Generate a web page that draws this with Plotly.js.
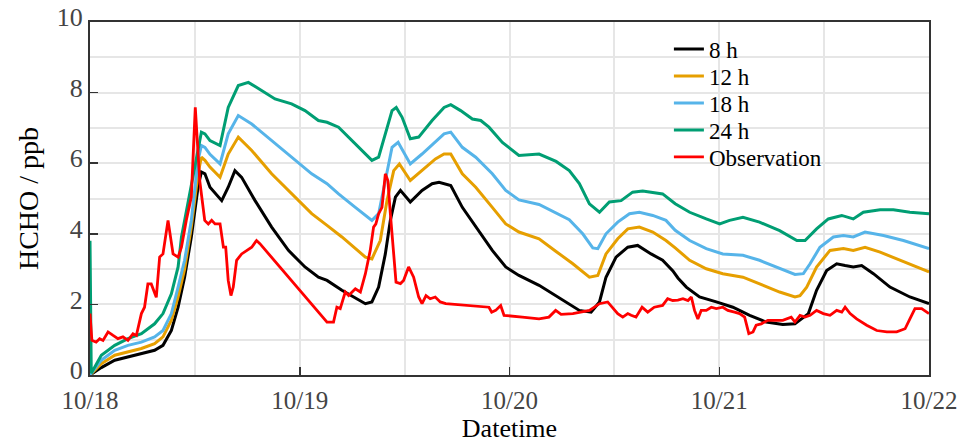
<!DOCTYPE html>
<html>
<head>
<meta charset="utf-8">
<script src="https://cdn.plot.ly/plotly-3.0.1.min.js"></script>
<style>html,body{margin:0;padding:0;background:#fff;}#chart{width:967px;height:443px;}</style>
</head>
<body>
<div id="chart"></div>
<script>
// Day offsets from 10/18 00:00 and HCHO values (ppb)
const tickLabels = ['10/18','10/19','10/20','10/21','10/22'];
const seriesNames = ['8 h','12 h','18 h','24 h','Observation'];

const days8 = [0,0.054,0.118,0.181,0.245,0.308,0.348,0.388,0.42,0.451,0.483,0.515,0.531,0.548,0.572,0.628,0.659,0.691,0.723,0.787,0.866,0.946,1.025,1.089,1.13,1.201,1.313,1.344,1.376,1.408,1.432,1.456,1.48,1.527,1.583,1.631,1.664,1.72,1.775,1.839,1.918,1.982,2.045,2.141,2.222,2.285,2.333,2.389,2.429,2.46,2.508,2.564,2.611,2.675,2.73,2.779,2.803,2.843,2.906,2.986,3.065,3.145,3.224,3.303,3.361,3.425,3.464,3.512,3.56,3.6,3.639,3.679,3.735,3.814,3.909,4.0];
const hcho8 = [0,0.21,0.42,0.51,0.6,0.7,0.84,1.26,1.92,2.77,3.91,5.32,5.75,5.7,5.32,4.94,5.32,5.79,5.6,4.94,4.19,3.53,3.06,2.77,2.68,2.4,2.02,2.07,2.49,3.43,4.38,5.04,5.23,4.9,5.23,5.42,5.46,5.37,4.75,4.19,3.53,3.06,2.82,2.54,2.25,2.02,1.83,1.78,2.07,2.77,3.34,3.62,3.67,3.43,3.25,2.95,2.75,2.49,2.21,2.07,1.92,1.69,1.5,1.43,1.45,1.74,2.4,2.96,3.15,3.1,3.06,3.1,2.87,2.49,2.21,2.02];

const days12 = [0,0.054,0.118,0.181,0.245,0.308,0.348,0.388,0.42,0.451,0.483,0.515,0.531,0.548,0.572,0.62,0.659,0.707,0.771,0.866,0.961,1.057,1.13,1.201,1.313,1.344,1.384,1.416,1.448,1.475,1.527,1.583,1.647,1.688,1.72,1.775,1.839,1.918,1.982,2.045,2.141,2.222,2.302,2.381,2.421,2.46,2.516,2.564,2.619,2.683,2.746,2.79,2.859,2.938,3.017,3.113,3.192,3.288,3.361,3.385,3.417,3.464,3.528,3.592,3.639,3.695,3.767,3.862,4.0];
const hcho12 = [0,0.32,0.56,0.65,0.75,0.89,1.08,1.55,2.21,3.0,4.19,5.7,6.17,6.08,5.89,5.6,6.26,6.74,6.36,5.7,5.13,4.57,4.24,3.91,3.34,3.29,3.81,4.94,5.79,5.98,5.51,5.79,6.12,6.26,6.26,5.7,5.32,4.75,4.28,4.05,3.86,3.5,3.15,2.77,2.82,3.43,3.86,4.14,4.19,4.05,3.81,3.6,3.25,3.01,2.87,2.77,2.58,2.35,2.21,2.25,2.49,3.06,3.53,3.58,3.53,3.62,3.48,3.25,2.92];

const days18 = [0,0.054,0.118,0.181,0.245,0.308,0.348,0.388,0.42,0.451,0.483,0.515,0.531,0.548,0.572,0.62,0.659,0.707,0.771,0.866,0.961,1.057,1.13,1.185,1.265,1.344,1.376,1.408,1.44,1.469,1.527,1.583,1.688,1.72,1.775,1.839,1.918,1.982,2.045,2.141,2.222,2.285,2.349,2.397,2.421,2.46,2.516,2.572,2.619,2.683,2.746,2.79,2.859,2.938,3.017,3.113,3.192,3.288,3.361,3.401,3.433,3.48,3.544,3.592,3.639,3.695,3.783,3.878,4.0];
const hcho18 = [0,0.42,0.7,0.84,0.93,1.08,1.26,1.74,2.49,3.25,4.38,6.08,6.5,6.45,6.25,5.98,6.83,7.35,7.11,6.64,6.17,5.7,5.42,5.13,4.75,4.38,4.57,5.51,6.45,6.59,5.98,6.26,6.83,6.88,6.45,6.17,5.7,5.23,4.96,4.83,4.6,4.4,4.0,3.6,3.58,4.0,4.33,4.57,4.61,4.52,4.38,4.1,3.81,3.58,3.43,3.39,3.25,3.01,2.85,2.87,3.15,3.62,3.91,3.95,3.91,4.05,3.95,3.81,3.58];

const days24 = [0,0.006,0.054,0.118,0.181,0.245,0.308,0.348,0.388,0.42,0.436,0.467,0.499,0.531,0.548,0.572,0.62,0.659,0.707,0.755,0.818,0.882,0.961,1.025,1.089,1.13,1.185,1.265,1.344,1.376,1.416,1.44,1.46,1.488,1.527,1.567,1.631,1.688,1.72,1.767,1.823,1.863,1.902,1.966,2.045,2.141,2.222,2.285,2.333,2.381,2.429,2.476,2.532,2.587,2.635,2.683,2.73,2.79,2.859,2.938,3.002,3.049,3.113,3.192,3.288,3.37,3.409,3.464,3.52,3.584,3.639,3.687,3.767,3.83,3.909,4.0];
const hcho24 = [3.8,0.05,0.56,0.84,1.03,1.17,1.45,1.74,2.3,3.06,3.9,4.85,5.89,6.88,6.83,6.64,6.5,7.58,8.2,8.29,8.06,7.82,7.68,7.49,7.21,7.16,7.02,6.55,6.08,6.17,7.02,7.49,7.58,7.3,6.69,6.74,7.21,7.58,7.66,7.49,7.25,7.21,7.02,6.59,6.22,6.26,6.05,5.79,5.42,4.85,4.61,4.9,4.94,5.18,5.21,5.18,5.13,4.85,4.61,4.42,4.28,4.38,4.47,4.33,4.09,3.81,3.81,4.14,4.42,4.52,4.42,4.61,4.68,4.68,4.61,4.57];

const daysObs = [0,0.009,0.029,0.046,0.062,0.086,0.11,0.133,0.157,0.181,0.205,0.221,0.245,0.26,0.276,0.292,0.316,0.332,0.348,0.372,0.396,0.42,0.436,0.459,0.483,0.502,0.523,0.547,0.564,0.58,0.596,0.62,0.636,0.647,0.659,0.672,0.683,0.699,0.723,0.747,0.771,0.794,0.81,1.13,1.138,1.161,1.177,1.193,1.217,1.233,1.265,1.289,1.313,1.336,1.352,1.363,1.376,1.392,1.408,1.42,1.432,1.448,1.459,1.48,1.495,1.519,1.543,1.567,1.583,1.602,1.622,1.646,1.67,1.696,1.791,1.902,1.915,1.934,1.958,1.974,2.061,2.141,2.188,2.22,2.246,2.302,2.381,2.429,2.468,2.492,2.516,2.54,2.564,2.58,2.603,2.632,2.659,2.69,2.73,2.754,2.778,2.803,2.827,2.851,2.867,2.882,2.898,2.914,2.938,2.962,2.986,3.017,3.041,3.073,3.097,3.121,3.141,3.161,3.176,3.2,3.232,3.256,3.303,3.343,3.361,3.385,3.409,3.433,3.464,3.496,3.528,3.56,3.584,3.6,3.624,3.655,3.703,3.751,3.799,3.846,3.886,3.909,3.933,3.965,4.0];
const hchoObs = [1.74,0.98,0.93,1.03,0.98,1.22,1.12,1.03,1.08,0.98,1.17,1.12,1.74,1.92,2.58,2.58,2.2,3.34,3.43,4.38,3.43,3.34,3.62,4.38,5.04,7.58,5.51,4.38,4.28,4.38,4.28,4.28,3.62,3.62,2.68,2.25,2.49,3.25,3.43,3.53,3.62,3.81,3.72,1.5,1.5,1.5,1.92,1.88,2.35,2.25,2.44,2.35,2.87,3.53,4.19,4.28,4.57,4.75,5.7,5.51,4.57,3.43,2.63,2.59,2.68,3.06,2.77,2.21,2.02,2.25,2.16,2.21,2.07,2.02,1.97,1.92,1.78,1.83,1.97,1.69,1.64,1.59,1.64,1.83,1.72,1.74,1.83,2.02,2.07,1.92,1.74,1.64,1.74,1.69,1.64,1.92,1.78,1.92,1.97,2.16,2.11,2.12,2.16,2.11,2.21,1.83,1.59,1.83,1.83,1.92,1.88,1.92,1.83,1.78,1.74,1.64,1.17,1.22,1.41,1.45,1.55,1.55,1.55,1.64,1.5,1.69,1.64,1.69,1.83,1.74,1.69,1.83,1.78,1.92,1.74,1.59,1.41,1.26,1.22,1.22,1.31,1.59,1.88,1.88,1.74];

const baseMs = Date.UTC(2020, 9, 18);
function toDate(d) {
  return new Date(Math.round(baseMs + d * 86400000)).toISOString().slice(0, 19).replace('T', ' ');
}

const colors = ['#000000', '#E69F00', '#56B4E9', '#009E73', '#FF0000'];
const xs = [days8, days12, days18, days24, daysObs];
const ys = [hcho8, hcho12, hcho18, hcho24, hchoObs];
const legendIds = ['legend', 'legend2', 'legend3', 'legend4', 'legend5'];

const traces = xs.map((dx, i) => ({
  type: 'scatter',
  mode: 'lines',
  name: seriesNames[i],
  legend: legendIds[i],
  x: dx.map(toDate),
  y: ys[i],
  line: {color: colors[i], width: i === 4 ? 2.8 : 3}
}));

const serif = 'Liberation Serif, Times New Roman, serif';
const grid = '#e6e6e6';

const layout = {
  width: 967, height: 443,
  margin: {l: 90, r: 38, t: 22, b: 68},
  paper_bgcolor: '#ffffff', plot_bgcolor: '#ffffff',
  font: {family: serif, color: '#000'},
  showlegend: true,
  xaxis: {
    type: 'date',
    range: [toDate(0), toDate(4)],
    tickmode: 'array',
    tickvals: [0,1,2,3,4].map(toDate),
    ticktext: tickLabels,
    ticks: 'inside', ticklen: 8, tickwidth: 1.5, tickcolor: '#333',
    showgrid: true, gridcolor: grid, gridwidth: 2,
    minor: {tickmode: 'array', tickvals: [0.5,1.5,2.5,3.5].map(toDate), showgrid: true, gridcolor: grid, gridwidth: 2, ticks: ''},
    showline: true, mirror: true, linecolor: '#333', linewidth: 2,
    zeroline: false,
    ticklabelstandoff: 2,
    tickfont: {family: serif, size: 25, color: '#444'},
    title: {text: 'Datetime', font: {family: serif, size: 26, color: '#000'}, standoff: 5}
  },
  yaxis: {
    range: [0, 10],
    tickmode: 'linear', tick0: 0, dtick: 2,
    ticks: 'inside', ticklen: 8, tickwidth: 1.5, tickcolor: '#333',
    showgrid: true, gridcolor: grid, gridwidth: 2,
    minor: {dtick: 1, showgrid: true, gridcolor: grid, gridwidth: 2, ticks: ''},
    showline: true, mirror: true, linecolor: '#333', linewidth: 2,
    zeroline: false,
    ticklabelshift: -5,
    tickfont: {family: serif, size: 26, color: '#444'},
    title: {text: 'HCHO / ppb', font: {family: serif, size: 28, color: '#000'}, standoff: 10}
  }
};

// one legend box per row so the rows can sit as tightly as in the reference
legendIds.forEach((id, i) => {
  const yc = 49 + 27 * i;
  layout[id] = {
    x: 0.69, xanchor: 'left',
    y: (375 - yc) / 353, yanchor: 'middle',
    bgcolor: 'rgba(0,0,0,0)', borderwidth: 0,
    font: {family: serif, size: 23, color: '#000'}
  };
});

Plotly.newPlot('chart', traces, layout, {staticPlot: true, displayModeBar: false});
</script>
</body>
</html>
